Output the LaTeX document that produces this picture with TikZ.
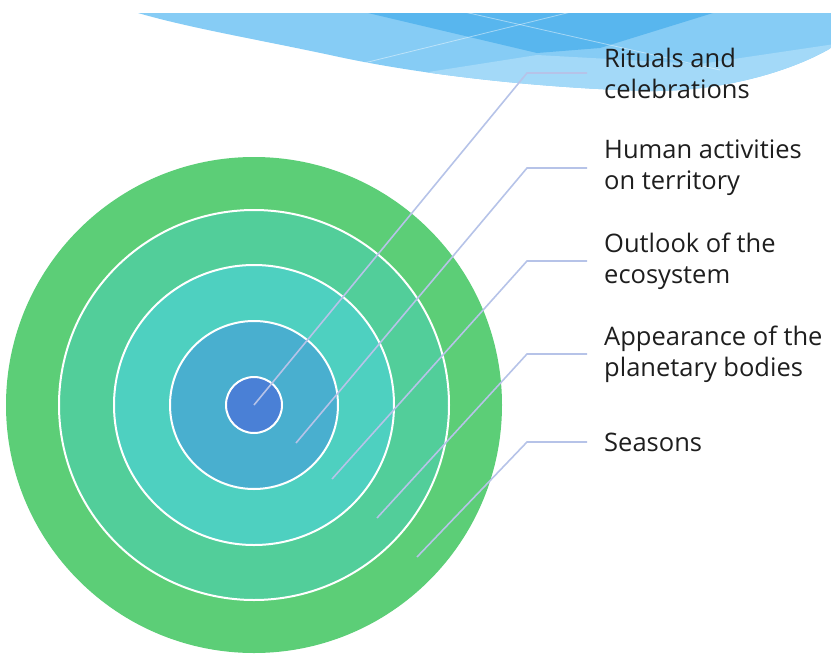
\documentclass[tikz,border=0pt]{standalone}
\usepackage{fontspec}
\setmainfont{Open Sans}
\definecolor{outerc}{HTML}{5CCE77}
\definecolor{ringb}{HTML}{52CE9A}
\definecolor{ringc}{HTML}{4ED0C0}
\definecolor{ringd}{HTML}{49AFCF}
\definecolor{innerc}{HTML}{4A80D6}
\definecolor{leadc}{HTML}{B6C3E8}
\definecolor{textc}{HTML}{1E1E1E}
\definecolor{swbase}{HTML}{86CCF5}
\definecolor{swdark}{HTML}{58B6EE}
\definecolor{swlight}{HTML}{A3D9F8}
\begin{document}
\begin{tikzpicture}[x=1pt,y=-1pt,
  ring/.style={draw=white, line width=2pt},
  leader/.style={draw=leadc, line width=1.6pt},
  lbl/.style={anchor=west, inner sep=0pt, align=left, font=\fontsize{25.5}{31}\selectfont, text=textc}]
\useasboundingbox (0,0) rectangle (831,654);
% swoosh
\begin{scope}
\clip (138,13) -- (831,13) -- (831,48) .. controls (790,72) and (720,92) .. (647,91)
  .. controls (540,88) and (420,75) .. (330,55) .. controls (250,38) and (190,28) .. (138,13) -- cycle;
\fill[swbase] (130,10) rectangle (835,100);
\fill[swlight] (390,78) -- (537,55) -- (700,64) -- (835,44) -- (835,100) -- (390,100) -- cycle;
\fill[swdark] (368,13) -- (713,13) -- (600,48) -- (537,53) -- cycle;
\draw[white, opacity=0.45, line width=0.8pt] (360,64) -- (575,11);
\draw[white, opacity=0.45, line width=0.8pt] (460,11) -- (720,70);
\end{scope}
% circles
\coordinate (c) at (254,405);
\fill[outerc] (c) circle[radius=248pt];
\filldraw[fill=ringb, ring] (c) circle[radius=195pt];
\filldraw[fill=ringc, ring] (c) circle[radius=140pt];
\filldraw[fill=ringd, ring] (c) circle[radius=84pt];
\filldraw[fill=innerc, ring] (c) circle[radius=28pt];
% labels
\node[lbl] (t1) at (604,73) {Rituals and\\celebrations};
\node[lbl] (t2) at (604,168) {Human activities\\on territory};
\node[lbl] (t3) at (604,261) {Outlook of the\\ecosystem};
\node[lbl] (t4) at (604,354) {Appearance of the\\planetary bodies};
\node[lbl] (t5) at (604,442) {Seasons};
% leader start points
\coordinate (s1) at (254,405);
\coordinate (s2) at (296,443);
\coordinate (s3) at (332,479);
\coordinate (s4) at (377,518);
\coordinate (s5) at (417,557);
\draw[leader] (s1) -- (t1.west -| 527,0) -- ([xshift=-17pt]t1.west);
\draw[leader] (s2) -- (t2.west -| 527,0) -- ([xshift=-17pt]t2.west);
\draw[leader] (s3) -- (t3.west -| 527,0) -- ([xshift=-17pt]t3.west);
\draw[leader] (s4) -- (t4.west -| 527,0) -- ([xshift=-17pt]t4.west);
\draw[leader] (s5) -- (t5.west -| 527,0) -- ([xshift=-17pt]t5.west);
\end{tikzpicture}
\end{document}
